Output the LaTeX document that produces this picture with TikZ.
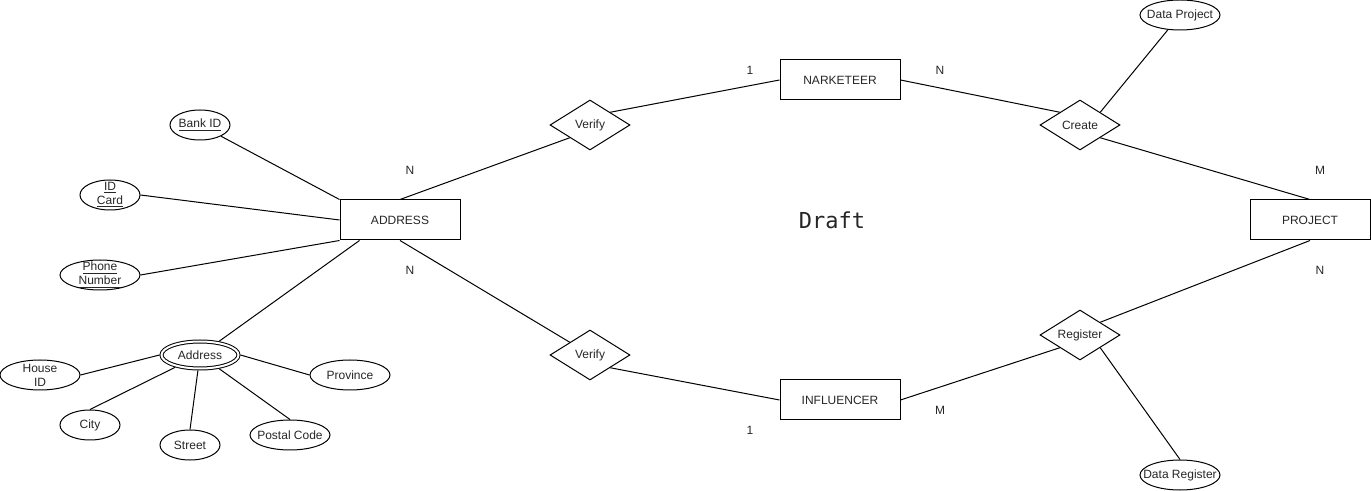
\documentclass[tikz,border=0pt]{standalone}
\usepackage{fontspec}
\setmainfont{Liberation Sans}
\newfontfamily\draftfont{DejaVu Sans Mono}
\usetikzlibrary{shapes.geometric}
\begin{document}
\begin{tikzpicture}[x=0.75pt,y=-0.75pt,
  every node/.style={font=\fontsize{9}{10.5}\selectfont, text=black!85},
  every path/.style={line width=0.75pt},
  entity/.style={draw, rectangle, minimum width=90pt, minimum height=30pt, inner sep=0pt},
  rel/.style={draw, diamond, minimum width=60pt, minimum height=37.5pt, inner sep=0pt},
  attr/.style={draw, ellipse, minimum width=60pt, minimum height=22.5pt, inner sep=0pt},
  sattr/.style={attr, minimum width=45pt},
  card/.style={inner sep=0pt}
]
\useasboundingbox (0,0) rectangle (1371,491);
% entities
\node[entity] (addrE) at (400,220) {ADDRESS};
\node[entity] (nark) at (840,80) {NARKETEER};
\node[entity] (inf) at (840,400) {INFLUENCER};
\node[entity] (proj) at (1310,220) {PROJECT};
% relationships
\node[rel, label={center:Verify}] (v1) at (590,125) {};
\node[rel, label={center:Verify}] (v2) at (590,355) {};
\node[rel, label={center:Create}] (cr) at (1080,125) {};
\node[rel, label={center:Register}] (reg) at (1080,335) {};
% attributes
\node[attr, label={center:Data Project}] (dp) at (1180,15) {};
\node[attr, label={center:Data Register}] (dr) at (1180,475) {};
\node[sattr, label={center:\underline{Bank ID}}] (bank) at (200,125) {};
\node[sattr, label={[align=center]center:{\underline{ID}\\\underline{Card}}}] (idc) at (110,195) {};
\node[attr, label={[align=center]center:{\underline{Phone}\\\underline{Number}}}] (ph) at (100,275) {};
\node[draw, ellipse, double, double distance=1.5pt, minimum width=57.75pt, minimum height=20.25pt, inner sep=0pt, outer sep=1.5pt, label={center:Address}] (adr) at (200,355) {};
\node[attr, label={[align=center]center:{House\\ID}}] (hid) at (40,375) {};
\node[sattr, label={center:City}] (city) at (90,425) {};
\node[sattr, label={center:Street}] (street) at (190,445) {};
\node[attr, label={center:Postal Code}] (pc) at (290,435) {};
\node[attr, label={center:Province}] (prov) at (350,375) {};
% cardinalities
\node[card] (c1) at (410,170) {N};
\node[card] (c2) at (410,270) {N};
\node[card] (c3) at (750,70) {1};
\node[card] (c4) at (940,70) {N};
\node[card] (c5) at (1320,170) {M};
\node[card] (c6) at (1320,270) {N};
\node[card] (c7) at (940,410) {M};
\node[card] (c8) at (750,430) {1};
% watermark
\node[font=\draftfont\fontsize{16.5}{18}\selectfont] (draft) at (832,220) {Draft};
% connectors
\draw (bank) -- (addrE.north west);
\draw (idc.east) -- (addrE.west);
\draw (ph.east) -- (addrE.south west);
\draw (adr) -- ([xshift=15pt]addrE.south west);
\draw (addrE.north) -- (v1.south west);
\draw (v1.north east) -- (nark.west);
\draw (nark.east) -- (cr.north west);
\draw (cr.south east) -- (proj.north);
\draw (cr.north east) -- (dp);
\draw (addrE.south) -- (v2.north west);
\draw (v2.south east) -- (inf.west);
\draw (inf.east) -- (reg.south west);
\draw (reg.north east) -- (proj.south);
\draw (reg.south east) -- (dr.north);
\draw (hid.east) -- (adr.west);
\draw (city.north) -- (adr);
\draw (street.north) -- (adr);
\draw (pc.north) -- (adr);
\draw (prov.west) -- (adr.east);
\end{tikzpicture}
\end{document}
